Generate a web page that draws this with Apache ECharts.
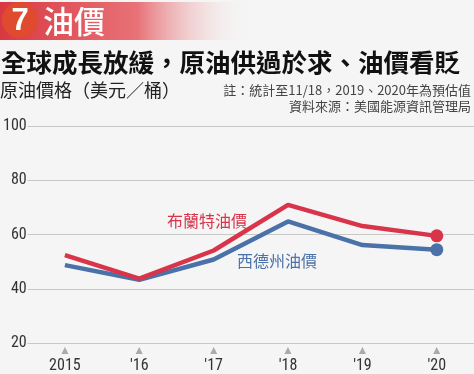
<!DOCTYPE html>
<html><head><meta charset="utf-8">
<script src="https://cdn.jsdelivr.net/npm/echarts@6/dist/echarts.min.js"></script>
<style>html,body{margin:0;padding:0;background:#f5f5f5}#c{width:474px;height:374px}</style>
</head><body><div id="c"></div>
<script>
const categories = ['2015', "'16", "'17", "'18", "'19", "'20"];
const brent = [52.4, 43.7, 54.1, 70.9, 63.1, 59.5];
const wti = [48.7, 43.3, 50.8, 64.8, 56.1, 54.4];
const yTicks = [20, 40, 60, 80, 100];
const CJK = '"Noto Sans CJK TC","Noto Sans CJK SC",sans-serif';
const NUM = '"Liberation Sans Narrow","Roboto Condensed","DejaVu Sans Condensed",sans-serif';
const RED = '#d8344a', BLUE = '#4b72a8';
const chart = echarts.init(document.getElementById('c'));
function lastDot(arr){ return arr.map((v,i)=> i===arr.length-1 ? {value:v, symbol:'circle', symbolSize:13} : {value:v, symbol:'none'}); }
chart.setOption({
  backgroundColor: '#f5f5f5',
  animation: false,
  grid: {left: 22, right: 0, top: 126, bottom: 31},
  xAxis: {
    type: 'category', data: categories, boundaryGap: true,
    axisLine: {show: false}, axisTick: {show: false},
    axisLabel: {
      margin: 2, interval: 0,
      formatter: v => '{t|▲}\n{y|' + v + '}',
      rich: {
        t: {color: '#aaaaaa', fontSize: 12, lineHeight: 12, align: 'center'},
        y: {color: '#333', fontSize: 16, fontFamily: NUM, lineHeight: 17, align: 'center'}
      }
    }
  },
  yAxis: {
    type: 'value', min: yTicks[0], max: yTicks[yTicks.length-1], interval: 20,
    axisLine: {show: false}, axisTick: {show: false},
    axisLabel: {color: '#333', fontSize: 16, fontFamily: NUM, margin: 1, verticalAlign: 'middle'},
    splitLine: {lineStyle: {color: '#c8c8c8', width: 1}}
  },
  series: [
    {type: 'line', name: '布蘭特油價', data: lastDot(brent), lineStyle: {color: RED, width: 4.5}, itemStyle: {color: RED}, z: 3},
    {type: 'line', name: '西德州油價', data: lastDot(wti), lineStyle: {color: BLUE, width: 4.5}, itemStyle: {color: BLUE}, z: 2}
  ],
  graphic: [
    {type: 'rect', shape: {x: 0, y: 2, width: 250, height: 38},
     style: {fill: new echarts.graphic.LinearGradient(0, 0, 1, 0, [
       {offset: 0, color: 'rgba(216,56,66,1)'},
       {offset: 0.55, color: 'rgba(230,100,105,0.9)'},
       {offset: 1, color: 'rgba(245,245,245,0)'}])}},
    {type: 'circle', shape: {cx: 20, cy: 20, r: 18}, style: {fill: '#e04a2e'}},
    {type: 'text', style: {text: '7', x: 20, y: 21, fill: '#fff', font: 'bold 31px "Liberation Sans", sans-serif', align: 'center', verticalAlign: 'middle'}},
    {type: 'text', style: {text: '油價', x: 43, y: 21, fill: '#fff', font: '500 31px ' + CJK, verticalAlign: 'middle'}},
    {type: 'text', style: {text: '全球成長放緩，原油供過於求、油價看貶', x: 1, y: 62, fill: '#111', font: 'bold 25.5px ' + CJK, verticalAlign: 'middle'}},
    {type: 'text', style: {text: '原油價格（美元／桶）', x: 0, y: 90, fill: '#222', font: '18px ' + CJK, verticalAlign: 'middle'}},
    {type: 'text', style: {text: '註：統計至11/18，2019、2020年為預估值', x: 471, y: 90, fill: '#444', font: '13px ' + CJK, align: 'right', verticalAlign: 'middle'}},
    {type: 'text', style: {text: '資料來源：美國能源資訊管理局', x: 471, y: 106, fill: '#444', font: '13px ' + CJK, align: 'right', verticalAlign: 'middle'}},
    {type: 'text', style: {text: '布蘭特油價', x: 167, y: 221, fill: RED, font: '16px ' + CJK, verticalAlign: 'middle'}},
    {type: 'text', style: {text: '西德州油價', x: 237, y: 261, fill: BLUE, font: '16px ' + CJK, verticalAlign: 'middle'}}
  ]
});
</script></body></html>
